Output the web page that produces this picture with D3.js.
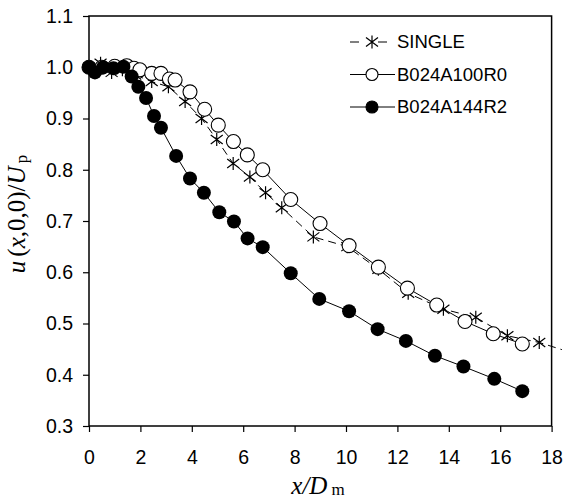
<!DOCTYPE html>
<html>
<head>
<meta charset="utf-8">
<script src="https://cdn.jsdelivr.net/npm/d3@7"></script>
<style>
  body { margin: 0; background: #fff; }
  svg { display: block; }
</style>
</head>
<body>
<svg id="chart"></svg>
<script>
// data: [x/Dm, u/Up]
const single = [
  [0, 1.0], [0.45, 1.008], [0.88, 0.99], [1.3, 0.995], [1.8, 0.985],
  [2.44, 0.972], [3.09, 0.962], [3.74, 0.933], [4.38, 0.9], [4.97, 0.859],
  [5.61, 0.812], [6.26, 0.786], [6.87, 0.755], [7.5, 0.726], [8.73, 0.669],
  [10.05, 0.65], [11.26, 0.606], [12.42, 0.559], [13.79, 0.528], [15.05, 0.512],
  [16.28, 0.476], [17.52, 0.463], [18.4, 0.449]
];
const b100 = [
  [0, 1.0], [0.5, 1.0], [1.0, 1.002], [1.47, 1.003], [1.75, 0.998],
  [1.98, 0.995], [2.44, 0.988], [2.8, 0.988], [3.13, 0.977], [3.35, 0.975],
  [3.93, 0.952], [4.5, 0.918], [5.03, 0.887], [5.62, 0.855], [6.16, 0.829],
  [6.76, 0.8], [7.85, 0.742], [8.99, 0.695], [10.12, 0.652], [11.26, 0.61],
  [12.39, 0.569], [13.53, 0.536], [14.63, 0.504], [15.73, 0.48], [16.86, 0.46]
];
const b144 = [
  [0, 1.0], [0.23, 0.99], [0.55, 1.0], [0.95, 0.998], [1.34, 1.001],
  [1.66, 0.982], [1.92, 0.962], [2.22, 0.94], [2.53, 0.905], [2.8, 0.882],
  [3.39, 0.827], [3.93, 0.783], [4.47, 0.755], [5.07, 0.717], [5.64, 0.699],
  [6.17, 0.666], [6.76, 0.649], [7.85, 0.598], [8.96, 0.548], [10.12, 0.524],
  [11.23, 0.489], [12.33, 0.466], [13.46, 0.437], [14.57, 0.416], [15.77, 0.392],
  [16.86, 0.368]
];
const xTicks = [0, 2, 4, 6, 8, 10, 12, 14, 16, 18];
const yTicks = [0.3, 0.4, 0.5, 0.6, 0.7, 0.8, 0.9, 1.0, 1.1];
const legendNames = ['SINGLE', 'B024A100R0', 'B024A144R2'];

const width = 566;
const height = 502;
const margin = { top: 16, right: 14.4, bottom: 76, left: 89 };

const svg = d3.select('#chart')
  .attr('width', width)
  .attr('height', height);

const x = d3.scaleLinear()
  .domain([0, 18])
  .range([margin.left, width - margin.right]);

const y = d3.scaleLinear()
  .domain([0.3, 1.1])
  .range([height - margin.bottom, margin.top]);

const sans = '"Liberation Sans", Arial, sans-serif';
const serif = '"Liberation Serif", "Times New Roman", serif';

// axes
const xAxis = g => g
  .attr('transform', `translate(0,${height - margin.bottom})`)
  .call(d3.axisBottom(x).tickValues(xTicks).tickSize(6).tickPadding(18).tickSizeOuter(0))
  .call(g => g.select('.domain').remove());

const yAxis = g => g
  .attr('transform', `translate(${margin.left},0)`)
  .call(d3.axisLeft(y).tickValues(yTicks).tickFormat(d3.format('.1f')).tickSize(6).tickPadding(10).tickSizeOuter(0))
  .call(g => g.select('.domain').remove());

svg.append('g').call(xAxis);
svg.append('g').call(yAxis);

svg.selectAll('.tick text')
  .attr('font-family', sans)
  .attr('font-size', 19.5)
  .attr('fill', '#000');
svg.selectAll('.tick line')
  .attr('stroke', '#000')
  .attr('stroke-width', 1.2);

// frame
svg.append('rect')
  .attr('x', margin.left)
  .attr('y', margin.top)
  .attr('width', width - margin.right - margin.left)
  .attr('height', height - margin.bottom - margin.top)
  .attr('fill', 'none')
  .attr('stroke', '#000')
  .attr('stroke-width', 1.5);

const line = d3.line()
  .x(d => x(d[0]))
  .y(d => y(d[1]));

const starPath = 'M0,-6.5V6.5M-6,-4.5L6,4.5M-6,4.5L6,-4.5';

// SINGLE, dashed with star markers
svg.append('path')
  .datum(single)
  .attr('fill', 'none')
  .attr('stroke', '#000')
  .attr('stroke-width', 1)
  .attr('stroke-dasharray', '8,5')
  .attr('d', line);

svg.append('g')
  .selectAll('path')
  .data(single.filter(d => d[0] <= 18))
  .join('path')
  .attr('transform', d => `translate(${x(d[0])},${y(d[1])})`)
  .attr('d', starPath)
  .attr('stroke', '#000')
  .attr('stroke-width', 1.2)
  .attr('fill', 'none');

// B024A100R0, open circles
svg.append('path')
  .datum(b100)
  .attr('fill', 'none')
  .attr('stroke', '#000')
  .attr('stroke-width', 1)
  .attr('d', line);

svg.append('g')
  .selectAll('circle')
  .data(b100)
  .join('circle')
  .attr('cx', d => x(d[0]))
  .attr('cy', d => y(d[1]))
  .attr('r', 7)
  .attr('fill', '#fff')
  .attr('stroke', '#000')
  .attr('stroke-width', 1.1);

// B024A144R2, filled circles
svg.append('path')
  .datum(b144)
  .attr('fill', 'none')
  .attr('stroke', '#000')
  .attr('stroke-width', 1)
  .attr('d', line);

svg.append('g')
  .selectAll('circle')
  .data(b144)
  .join('circle')
  .attr('cx', d => x(d[0]))
  .attr('cy', d => y(d[1]))
  .attr('r', 7)
  .attr('fill', '#000');

// legend
const legend = svg.append('g')
  .attr('transform', 'translate(350,0)');

const rows = legend.selectAll('g')
  .data(legendNames)
  .join('g')
  .attr('transform', (d, i) => `translate(0,${42 + i * 32.5})`);

rows.append('line')
  .attr('x1', 0)
  .attr('x2', 45)
  .attr('stroke', '#000')
  .attr('stroke-width', 1)
  .attr('stroke-dasharray', (d, i) => i === 0 ? '9,19,9' : null);

rows.filter((d, i) => i === 0).append('path')
  .attr('transform', 'translate(22,0)')
  .attr('d', starPath)
  .attr('stroke', '#000')
  .attr('stroke-width', 1.2);

rows.filter((d, i) => i > 0).append('circle')
  .attr('cx', 22)
  .attr('r', 6)
  .attr('fill', (d, i) => i === 0 ? '#fff' : '#000')
  .attr('stroke', '#000')
  .attr('stroke-width', 1.1);

rows.append('text')
  .attr('x', 47)
  .attr('dy', '0.35em')
  .attr('font-family', sans)
  .attr('font-size', 18.5)
  .text(d => d);

// axis titles
const xTitle = svg.append('text')
  .attr('x', 318)
  .attr('y', 494)
  .attr('text-anchor', 'middle')
  .attr('font-family', serif)
  .attr('font-size', 25);
xTitle.append('tspan').attr('font-style', 'italic').text('x/D');
xTitle.append('tspan').attr('font-size', 17).attr('dx', 4).attr('dy', 1).text('m');

const yTitle = svg.append('text')
  .attr('transform', 'translate(25,214) rotate(-90)')
  .attr('text-anchor', 'middle')
  .attr('font-family', serif)
  .attr('font-size', 25);
yTitle.append('tspan').attr('font-style', 'italic').text('u');
yTitle.append('tspan').attr('dx', 4).text('(');
yTitle.append('tspan').attr('font-style', 'italic').text('x');
yTitle.append('tspan').text(',0,0)/');
yTitle.append('tspan').attr('font-style', 'italic').text('U');
yTitle.append('tspan').attr('font-size', 17).attr('dx', 3).attr('dy', 2).text('p');
</script>
</body>
</html>
